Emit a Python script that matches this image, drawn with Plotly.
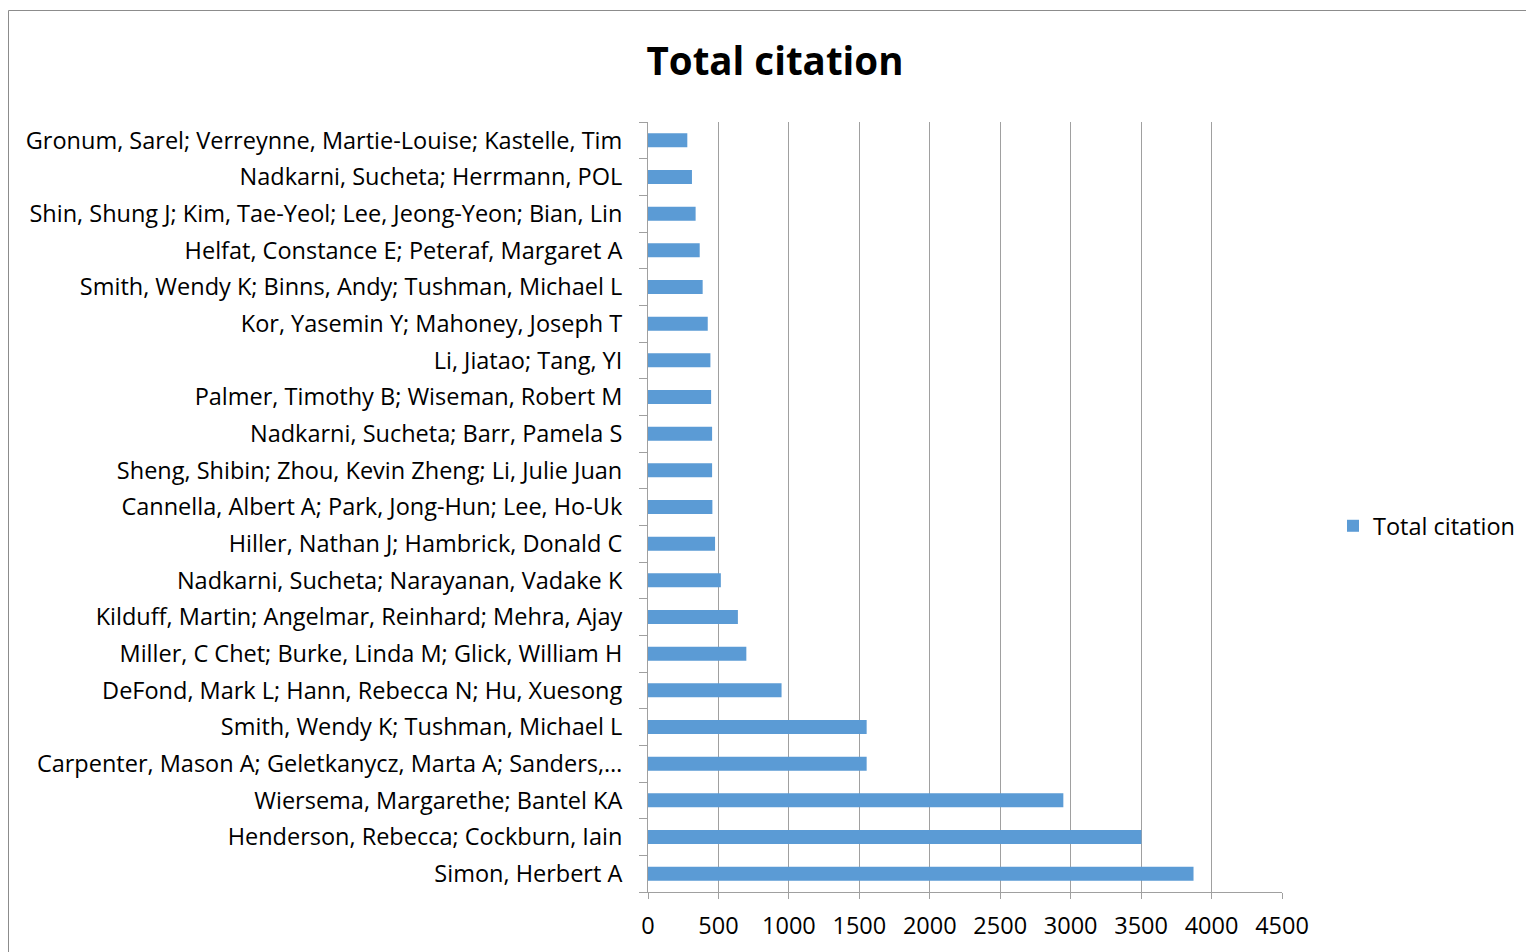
import plotly.graph_objects as go

# Categories from bottom to top (as shown)
authors = [
    "Simon, Herbert A",
    "Henderson, Rebecca; Cockburn, Iain",
    "Wiersema, Margarethe; Bantel KA",
    "Carpenter, Mason A; Geletkanycz, Marta A; Sanders,…",
    "Smith, Wendy K; Tushman, Michael L",
    "DeFond, Mark L; Hann, Rebecca N; Hu, Xuesong",
    "Miller, C Chet; Burke, Linda M; Glick, William H",
    "Kilduff, Martin; Angelmar, Reinhard; Mehra, Ajay",
    "Nadkarni, Sucheta; Narayanan, Vadake K",
    "Hiller, Nathan J; Hambrick, Donald C",
    "Cannella, Albert A; Park, Jong-Hun; Lee, Ho-Uk",
    "Sheng, Shibin; Zhou, Kevin Zheng; Li, Julie Juan",
    "Nadkarni, Sucheta; Barr, Pamela S",
    "Palmer, Timothy B; Wiseman, Robert M",
    "Li, Jiatao; Tang, YI",
    "Kor, Yasemin Y; Mahoney, Joseph T",
    "Smith, Wendy K; Binns, Andy; Tushman, Michael L",
    "Helfat, Constance E; Peteraf, Margaret A",
    "Shin, Shung J; Kim, Tae-Yeol; Lee, Jeong-Yeon; Bian, Lin",
    "Nadkarni, Sucheta; Herrmann, POL",
    "Gronum, Sarel; Verreynne, Martie-Louise; Kastelle, Tim",
]
citations = [3872, 3502, 2948, 1552, 1552, 948, 698, 638, 517, 476, 457,
             455, 455, 448, 443, 424, 388, 367, 338, 312, 279]

x_ticks = [0, 500, 1000, 1500, 2000, 2500, 3000, 3500, 4000, 4500]

FONT = "Open Sans"
GRID = "#a0a0a0"
FS = 23.5

fig = go.Figure()
fig.add_trace(go.Bar(
    y=authors, x=citations, orientation="h",
    name="Total citation",
    marker=dict(color="#5B9BD5", line=dict(width=0)),
    showlegend=True,
))

# plot area in pixels: x 648..1282, y 122..892
L, R, T, B = 648, 1282, 122, 892
W, H = R - L, B - T

def px(xp):
    return (xp - L) / W

def py(yp):
    return (B - yp) / H

fig.update_layout(
    width=1526, height=952,
    margin=dict(l=L, r=1526 - R, t=T, b=952 - B, autoexpand=False),
    paper_bgcolor="white", plot_bgcolor="white",
    font=dict(family=FONT, color="#000000", size=FS),
    title=dict(text="<b>Total citation</b>", x=(775) / 1526, xanchor="center",
               y=1 - 62 / 952, yanchor="middle",
               font=dict(family=FONT, size=38.5, color="#000000")),
    bargap=0.62,
    showlegend=True,
    legend=dict(x=px(1333), xanchor="left", y=py(526), yanchor="middle",
                font=dict(family=FONT, size=FS, color="#000000"),
                bgcolor="rgba(0,0,0,0)", itemwidth=30),
    xaxis=dict(range=[0, 4500], tickvals=x_ticks, ticktext=[str(v) for v in x_ticks],
               showgrid=True, gridcolor=GRID, gridwidth=1,
               showline=True, linecolor=GRID, linewidth=1,
               ticks="outside", ticklen=6, tickcolor=GRID,
               ticklabelstandoff=7,
               tickfont=dict(family=FONT, size=FS, color="#000000"),
               zeroline=False, fixedrange=True),
    yaxis=dict(type="category", categoryorder="array", categoryarray=authors,
               showgrid=False, showline=True, linecolor=GRID, linewidth=1,
               ticks="outside", ticklen=8, tickcolor=GRID, tickson="boundaries",
               ticklabelstandoff=20,
               tickfont=dict(family=FONT, size=FS, color="#000000"),
               fixedrange=True),
    shapes=[dict(type="rect", xref="paper", yref="paper",
                 x0=px(8.5), x1=px(1540), y0=py(970), y1=py(10.5),
                 line=dict(color="#8c8c8c", width=1), fillcolor="rgba(0,0,0,0)",
                 layer="below")],
)

fig.write_html("out.html")
